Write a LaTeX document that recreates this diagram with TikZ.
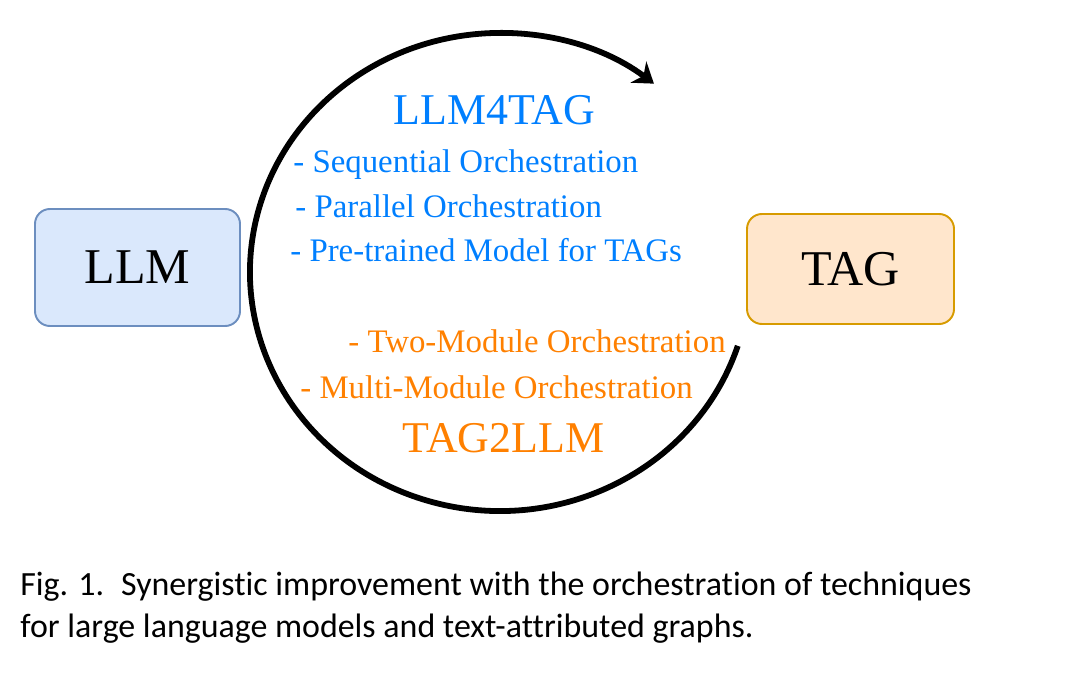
\documentclass[tikz,border=0pt]{standalone}
\usepackage{fontspec}
\setmainfont{Liberation Serif}
\newfontfamily\captionfont[Ligatures=NoCommon]{Carlito}
\usetikzlibrary{arrows.meta, positioning}
\definecolor{llm_blue}{HTML}{007FFF}
\definecolor{tag_orange}{HTML}{FF8000}
\definecolor{llm_fill}{HTML}{DAE8FC}
\definecolor{llm_line}{HTML}{6C8EBF}
\definecolor{tag_fill}{HTML}{FFE6CC}
\definecolor{tag_line}{HTML}{D79B00}

\begin{document}
\begin{tikzpicture}[
    >=Stealth,
    box/.style={draw, line width=1.1pt, rounded corners=8.5pt,
                align=center, font=\fontsize{28.5}{34}\selectfont},
    title/.style={anchor=base, inner sep=0pt, font=\fontsize{25}{30}\selectfont},
    item/.style={anchor=base west, inner sep=0pt, font=\fontsize{18.7}{23}\selectfont},
    cyclearrow/.style={-{Stealth[length=11pt, width=15pt]}, line width=3.3pt},
]
\useasboundingbox (0,0) rectangle (21.6,-13.72);

\node[box, fill=llm_fill, draw=llm_line, minimum width=4.1cm, minimum height=2.34cm] (llm) at (2.75,-5.35) {LLM};
\node[box, fill=tag_fill, draw=tag_line, minimum width=4.14cm, minimum height=2.2cm] (tag) at (17.01,-5.38) {TAG};

% the loop round the two directions
\coordinate (hub) at (10,-5.44);
\draw[cyclearrow] ([shift={(-18:5 and 4.78)}]hub) arc[start angle=-18, end angle=-308, x radius=5, y radius=4.78];

% LLM4TAG
\node[title, text=llm_blue] (l4t) at (9.89,-2.5) {LLM4TAG};
\node[item, text=llm_blue] (seq) at (5.86,-3.46) {- Sequential Orchestration};
\node[item, text=llm_blue] (par) at (5.9,-4.36) {- Parallel Orchestration};
\node[item, text=llm_blue] (pre) at (5.8,-5.24) {- Pre-trained Model for TAGs};

% TAG2LLM
\node[item, text=tag_orange] (two) at (6.96,-7.04) {- Two-Module Orchestration};
\node[item, text=tag_orange] (multi) at (6.0,-7.96) {- Multi-Module Orchestration};
\node[title, text=tag_orange] (t2l) at (10.07,-9.04) {TAG2LLM};

\node[anchor=base west, inner sep=0pt, align=left, font=\captionfont\fontsize{19.3}{23.9}\selectfont] (cap) at (0.4,-12.74)
  {Fig. 1.\hspace{0.5em}Synergistic improvement with the orchestration of techniques\\for large language models and text-attributed graphs.};
\end{tikzpicture}
\end{document}
